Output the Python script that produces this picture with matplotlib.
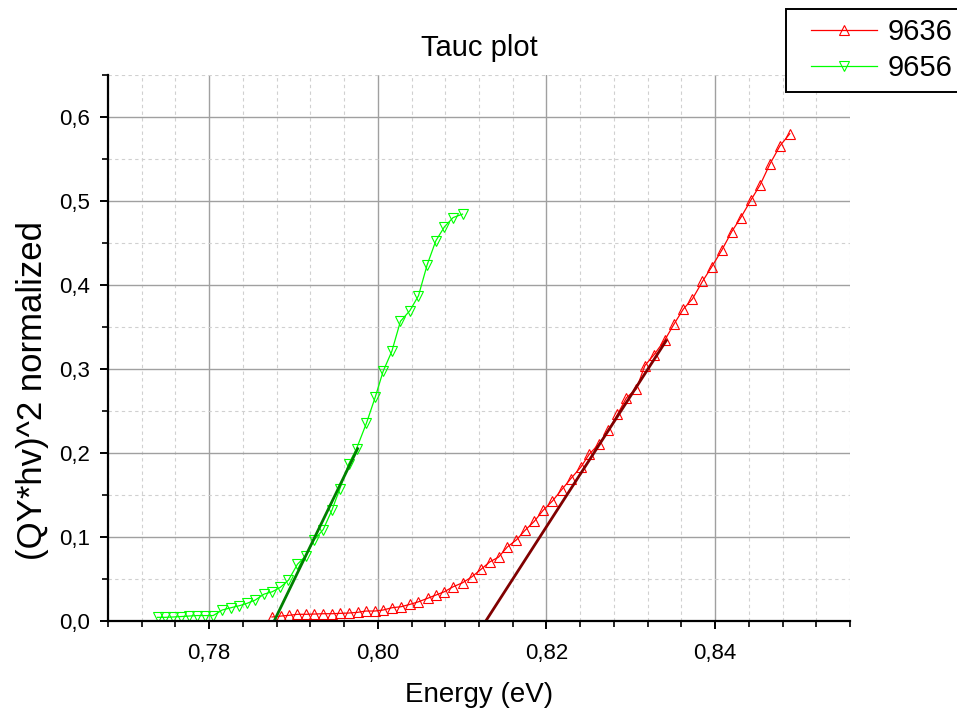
import matplotlib
matplotlib.use("Agg")
import matplotlib.pyplot as plt
from matplotlib.ticker import MultipleLocator, FuncFormatter
from matplotlib.legend_handler import HandlerLine2D

plt.rcParams["font.family"] = ["Liberation Sans", "DejaVu Sans"]

# sample 9636 (red, up triangles)
e_9636 = [0.78744, 0.78850, 0.78949, 0.79047, 0.79147, 0.79245, 0.79352, 0.79455, 0.79550, 0.79652,
          0.79759, 0.79858, 0.79965, 0.80063, 0.80166, 0.80273, 0.80380, 0.80482, 0.80589, 0.80688,
          0.80787, 0.80893, 0.81004, 0.81115, 0.81222, 0.81329, 0.81431, 0.81537, 0.81644, 0.81747,
          0.81854, 0.81961, 0.82071, 0.82182, 0.82289, 0.82408, 0.82506, 0.82625, 0.82735, 0.82842,
          0.82948, 0.83067, 0.83167, 0.83277, 0.83404, 0.83514, 0.83624, 0.83731, 0.83850, 0.83961,
          0.84080, 0.84198, 0.84305, 0.84424, 0.84534, 0.84649, 0.84768, 0.84886]
q_9636 = [0.0048, 0.0059, 0.0068, 0.0080, 0.0080, 0.0083, 0.0087, 0.0087, 0.0091, 0.0095,
          0.0103, 0.0119, 0.0119, 0.0131, 0.0158, 0.0170, 0.0198, 0.0229, 0.0270, 0.0309,
          0.0348, 0.0408, 0.0455, 0.0526, 0.0614, 0.0705, 0.0760, 0.0883, 0.0966, 0.1081,
          0.1185, 0.1319, 0.1429, 0.1565, 0.1695, 0.1833, 0.1984, 0.2111, 0.2269, 0.2459,
          0.2658, 0.2765, 0.3041, 0.3172, 0.3347, 0.3537, 0.3715, 0.3834, 0.4043, 0.4218,
          0.4416, 0.4637, 0.4803, 0.5010, 0.5192, 0.5438, 0.5655, 0.5801]

# sample 9656 (green, down triangles)
e_9656 = [0.77387, 0.77478, 0.77573, 0.77664, 0.77755, 0.77854, 0.77953, 0.78047, 0.78154, 0.78257,
          0.78356, 0.78447, 0.78545, 0.78652, 0.78747, 0.78842, 0.78940, 0.79047, 0.79147, 0.79245,
          0.79352, 0.79455, 0.79550, 0.79652, 0.79747, 0.79865, 0.79969, 0.80063, 0.80166, 0.80268,
          0.80380, 0.80482, 0.80585, 0.80688, 0.80790, 0.80893, 0.81004]
q_9656 = [0.0044, 0.0044, 0.0048, 0.0053, 0.0059, 0.0065, 0.0065, 0.0065, 0.0131, 0.0158,
          0.0182, 0.0210, 0.0249, 0.0321, 0.0348, 0.0400, 0.0487, 0.0677, 0.0778, 0.0966,
          0.1089, 0.1319, 0.1577, 0.1865, 0.2052, 0.2356, 0.2665, 0.2974, 0.3211, 0.3568,
          0.3695, 0.3873, 0.4241, 0.4527, 0.4693, 0.4803, 0.4844]

# linear fits (Tauc extrapolation)
fit_e_9636 = [0.8128, 0.8342]
fit_q_9636 = [0.0, 0.3338]
fit_e_9656 = [0.7877, 0.7976]
fit_q_9656 = [0.0, 0.2052]

fig = plt.figure(figsize=(9.57, 7.13), dpi=100)
ax = fig.add_axes([0.1129, 0.129, 0.7753, 0.7658])

ax.plot(e_9636, q_9636, color="#ff0000", lw=0.9, marker="^", ms=7, mfc="none", mew=0.8, label="9636")
ax.plot(e_9656, q_9656, color="#00ff00", lw=0.9, marker="v", ms=7, mfc="none", mew=0.8, label="9656")
ax.plot(fit_e_9636, fit_q_9636, color="#800000", lw=2)
ax.plot(fit_e_9656, fit_q_9656, color="#008000", lw=2)

ax.set_xlim(0.768, 0.856)
ax.set_ylim(0, 0.65)
ax.xaxis.set_major_locator(MultipleLocator(0.02))
ax.xaxis.set_minor_locator(MultipleLocator(0.004))
ax.yaxis.set_major_locator(MultipleLocator(0.1))
ax.yaxis.set_minor_locator(MultipleLocator(0.05))
ax.xaxis.set_major_formatter(FuncFormatter(lambda v, p: f"{v:.2f}".replace(".", ",")))
ax.yaxis.set_major_formatter(FuncFormatter(lambda v, p: f"{v:.1f}".replace(".", ",")))

ax.grid(True, which="major", color="#a0a0a0", lw=1.0, ls="-")
ax.grid(True, which="minor", color="#d0d0d0", lw=0.8, ls=(0, (3, 3)))
ax.set_axisbelow(True)

for s in ["top", "right"]:
    ax.spines[s].set_visible(False)
for s in ["left", "bottom"]:
    ax.spines[s].set_linewidth(1.6)
ax.tick_params(which="major", direction="out", length=6, width=1.4, labelsize=16)
ax.tick_params(axis="x", which="major", pad=10)
ax.tick_params(axis="y", which="major", pad=7)
ax.tick_params(which="minor", direction="out", length=4, width=1.2)

ax.set_title("Tauc plot", fontsize=21, pad=14)
ax.set_xlabel("Energy (eV)", fontsize=20)
ax.set_ylabel("(QY*hv)^2 normalized", fontsize=25)
ax.xaxis.set_label_coords(0.5, -0.112)
ax.yaxis.set_label_coords(-0.08, 0.423)

leg = fig.legend(loc="upper left", bbox_to_anchor=(786 / 957, 1 - 9 / 713), borderaxespad=0,
                 fontsize=21, handlelength=2.8, handletextpad=0.35, labelspacing=0.28,
                 borderpad=0.32, fancybox=False, framealpha=1, edgecolor="black",
                 handler_map={plt.Line2D: HandlerLine2D(numpoints=1, xpad=0.52)})
leg.get_frame().set_linewidth(1.4)

fig.savefig("out.png", dpi=100)
